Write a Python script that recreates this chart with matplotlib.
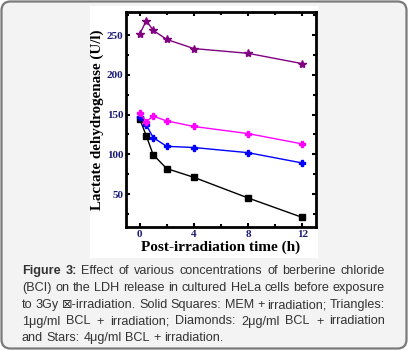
import matplotlib.pyplot as plt
from matplotlib.patches import FancyBboxPatch, Rectangle
from matplotlib.ticker import MultipleLocator

# values
hours = [0, 0.5, 1, 2, 4, 8, 12]
mem = [145, 123, 99.5, 82, 71, 45, 20.5]          # squares
bcl_1 = [152, 141, 148, 142, 135, 126, 113]       # magenta
bcl_2 = [147.5, 137, 121, 110, 108.5, 102, 89]    # blue
bcl_4 = [251, 268, 256, 244.5, 233, 227, 214]     # stars

caption_lines = [
    "Effect of various concentrations of berberine chloride",
    "(BCI) on the LDH release in cultured HeLa cells before exposure",
    "to 3Gy \u22a0-irradiation. Solid Squares: MEM + irradiation; Triangles:",
    "1\u03bcg/ml BCL + irradiation; Diamonds: 2\u03bcg/ml BCL + irradiation",
    "and Stars: 4\u03bcg/ml BCL + irradiation.",
]

W, H = 408, 350
fig = plt.figure(figsize=(W / 100, H / 100), dpi=100)
fig.patch.set_facecolor('white')

# card background
bg = fig.add_axes([0, 0, 1, 1])
bg.set_xlim(0, W)
bg.set_ylim(H, 0)
bg.axis('off')
bg.add_patch(FancyBboxPatch((1.5, 1.5), W - 3, H - 3, boxstyle="round,pad=0,rounding_size=9",
                            facecolor='#f2f3f2', edgecolor='#7a7a7a', lw=1.6))
bg.add_patch(Rectangle((90, 6), 228, 252, facecolor='white', edgecolor='none'))

ax = fig.add_axes([126 / W, 1 - 227 / H, 190 / W, 215 / H])
ax.plot(hours, mem, color='black', marker='s', ms=4, lw=1)
ax.plot(hours, bcl_2, color='#0000ff', marker='P', ms=5, lw=1)
ax.plot(hours, bcl_1, color='#ff00ff', marker='P', ms=5, lw=1)
ax.plot(hours, bcl_4, color='#800080', marker='*', ms=6, lw=1)

ax.set_xlim(-1, 13)
ax.set_ylim(8.5, 279)
ax.set_xticks([0, 4, 8, 12])
ax.set_yticks([50, 100, 150, 200, 250])
ax.xaxis.set_minor_locator(MultipleLocator(2))
ax.yaxis.set_minor_locator(MultipleLocator(25))
ax.tick_params(which='both', direction='in', top=True, right=True, width=1.5,
               labelsize=8, labelcolor='#1c1c7a', pad=2)
ax.tick_params(which='major', length=3)
ax.tick_params(which='minor', length=2)
for lab in ax.get_xticklabels() + ax.get_yticklabels():
    lab.set_fontfamily('Liberation Serif')
    lab.set_fontweight('bold')
for sp in ax.spines.values():
    sp.set_linewidth(2)
ax.set_xlabel('Post-irradiation time (h)', family='Liberation Serif', weight='bold',
              fontsize=11, labelpad=1)
ax.set_ylabel('Lactate dehydrogenase (U/l)', family='Liberation Serif', weight='bold',
              fontsize=10.8, labelpad=2)

# justified caption
fig.canvas.draw()
r = fig.canvas.get_renderer()
left, right = 22, 385
ys = [271, 288, 305, 321.5, 338]
size = 9.1
fam = ['Liberation Sans', 'DejaVu Sans']
for i, (line, y) in enumerate(zip(caption_lines, ys)):
    words = line.split(' ')
    bold = [False] * len(words)
    if i == 0:
        words = ['Figure', '3:'] + words
        bold = [True, True] + bold
    items = []
    for w, b in zip(words, bold):
        t = bg.text(0, y, w, fontsize=size, family=fam, color='#333333',
                    weight='bold' if b else 'normal', va='center', ha='left')
        items.append(t)
    widths = [t.get_window_extent(r).width for t in items]
    if i < len(caption_lines) - 1:
        gap = (right - left - sum(widths)) / (len(items) - 1)
    else:
        gap = bg.text(0, 0, ' ', fontsize=size, family=fam).get_window_extent(r).width
    x = left
    for t, w in zip(items, widths):
        t.set_x(x)
        x += w + gap

fig.savefig('out.png', dpi=100)
